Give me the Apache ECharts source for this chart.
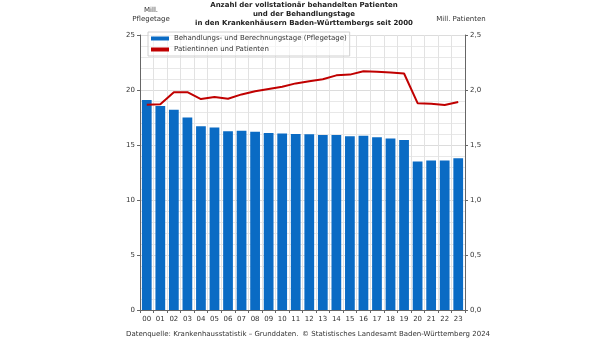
<!DOCTYPE html>
<html><head><meta charset="utf-8">
<script src="https://cdn.jsdelivr.net/npm/echarts@6/dist/echarts.min.js"></script>
<style>html,body{margin:0;padding:0;background:#fff}#c{width:608px;height:342px}</style>
</head><body><div id="c"></div>
<script>
const years = ['00','01','02','03','04','05','06','07','08','09','10','11','12','13','14','15','16','17','18','19','20','21','22','23'];
const pflegetage = [19.1,18.55,18.2,17.5,16.7,16.6,16.25,16.3,16.2,16.1,16.05,16.0,15.97,15.9,15.9,15.8,15.85,15.7,15.6,15.45,13.5,13.6,13.6,13.8];
const patienten = [1.866,1.87,1.98,1.98,1.918,1.936,1.92,1.96,1.988,2.01,2.03,2.06,2.08,2.097,2.133,2.14,2.17,2.167,2.16,2.15,1.88,1.875,1.864,1.89];
const leftTicks = [0,5,10,15,20,25];
const rightTicks = [0,0.5,1,1.5,2,2.5];
const titleLines = ['Anzahl der vollstationär behandelten Patienten','und der Behandlungstage','in den Krankenhäusern Baden-Württembergs seit 2000'];

const F = 'DejaVu Sans, Verdana, sans-serif';
const chart = echarts.init(document.getElementById('c'));
chart.setOption({
  animation:false,
  textStyle:{fontFamily:F},
  grid:{left:140,right:143,top:35,bottom:32,containLabel:false},
  legend:{
    left:148, top:32, orient:'vertical', itemGap:4, itemWidth:18, itemHeight:4,
    padding:[3,3,3,3], borderColor:'#d0d0d0', borderWidth:1, backgroundColor:'rgba(255,255,255,0.6)',
    textStyle:{fontSize:7, color:'#333', fontFamily:F},
    data:[{name:'Behandlungs- und Berechnungstage (Pflegetage)', icon:'rect'},{name:'Patientinnen und Patienten', icon:'rect'}]
  },
  graphic:[
    ...titleLines.map((t,i)=>({type:'text', left:'center', top:2+i*9, style:{text:t, font:'bold 7px '+F, fill:'#222'}})),
    {type:'text', x:151, y:6, style:{text:'Mill.\nPflegetage', font:'7px '+F, fill:'#333', align:'center', lineHeight:9}},
    {type:'text', x:461, y:16, style:{text:'Mill. Patienten', font:'7px '+F, fill:'#333', align:'center'}},
    {type:'text', x:126, y:331, style:{text:'Datenquelle: Krankenhausstatistik – Grunddaten.', font:'7px '+F, fill:'#333'}},
    {type:'text', x:302, y:331, style:{text:'© Statistisches Landesamt Baden-Württemberg 2024', font:'7px '+F, fill:'#333'}}
  ],
  xAxis:{
    type:'category', data:years,
    axisLine:{lineStyle:{color:'#666'}},
    axisTick:{show:true, length:3, lineStyle:{color:'#666'}},
    axisLabel:{fontSize:7, color:'#333', margin:6, interval:0},
    splitLine:{show:true, lineStyle:{color:'#e2e2e2'}}
  },
  yAxis:[{
    type:'value', min:0, max:25, interval:5,
    axisLine:{show:true, lineStyle:{color:'#666'}},
    axisTick:{show:true, length:3, lineStyle:{color:'#666'}},
    axisLabel:{fontSize:7, color:'#333', margin:5,
      formatter:v=>leftTicks.includes(v)?String(v):''},
    splitLine:{show:true, lineStyle:{color:'#dcdcdc'}},
    minorTick:{show:false, splitNumber:5},
    minorSplitLine:{show:true, lineStyle:{color:'#e8e8e8'}}
  },{
    type:'value', min:0, max:2.5, interval:0.5, position:'right',
    axisLine:{show:true, lineStyle:{color:'#666'}},
    axisTick:{show:true, length:3, lineStyle:{color:'#666'}},
    axisLabel:{fontSize:7, color:'#333', margin:5,
      formatter:v=>rightTicks.includes(Math.round(v*10)/10)?v.toFixed(1).replace('.',','):''},
    splitLine:{show:false}
  }],
  series:[{
    name:'Behandlungs- und Berechnungstage (Pflegetage)', type:'bar', data:pflegetage,
    barWidth:'72%', itemStyle:{color:'#0a6bc4'}, z:2
  },{
    name:'Patientinnen und Patienten', type:'line', yAxisIndex:1, data:patienten,
    symbol:'none', lineStyle:{color:'#c00000', width:2}, itemStyle:{color:'#c00000'}, z:3
  }]
});
</script></body></html>
